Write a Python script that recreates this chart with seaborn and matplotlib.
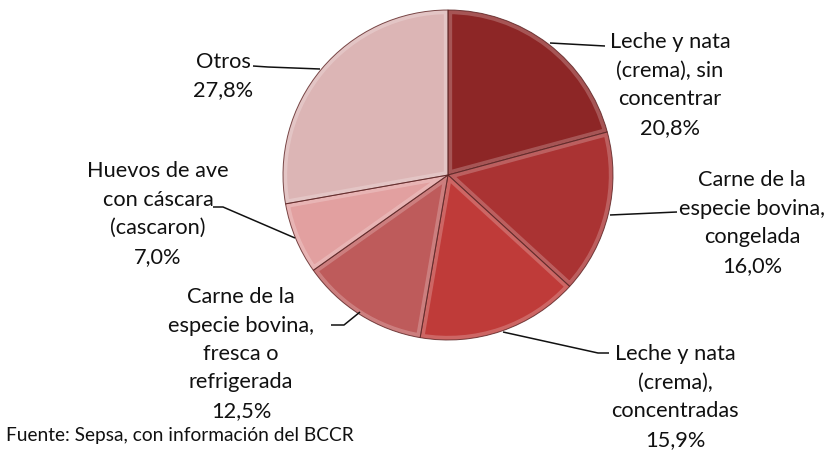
import matplotlib
matplotlib.use("Agg")
import matplotlib.pyplot as plt
from matplotlib.patches import Wedge
import seaborn as sns

# ---- data ----
categorias = [
    "Leche y nata\n(crema), sin\nconcentrar",
    "Carne de la\nespecie bovina,\ncongelada",
    "Leche y nata\n(crema),\nconcentradas",
    "Carne de la\nespecie bovina,\nfresca o\nrefrigerada",
    "Huevos de ave\ncon cáscara\n(cascaron)",
    "Otros",
]
valores = [20.8, 16.0, 15.9, 12.5, 7.0, 27.8]
colores = ["#8D2626", "#AA3333", "#BF3B39", "#BE5B5B", "#E2A0A0", "#DCB5B5"]
fuente = "Fuente: Sepsa, con información del BCCR"

# ---- layout (pixel coords, y from top) ----
W, H = 828, 451
label_pos = [(670, 85), (752, 223), (675, 397), (241, 354), (158, 214), (223, 76)]
leaders = [
    [(550, 43), (605, 46)],
    [(610, 215), (677, 212)],
    [(503, 332), (598, 353), (609, 353)],
    [(360, 312), (344, 325), (331, 325)],
    [(295, 238), (223, 207), (213, 207)],
    [(320, 69), (268, 67), (253, 66)],
]

sns.set_theme(style="white")
plt.rcParams["font.family"] = ["Lato", "DejaVu Sans"]

fig = plt.figure(figsize=(W / 100, H / 100), dpi=100)
ax = fig.add_axes([0, 0, 1, 1])

cx, cy, r = 448, H - 175, 165
wedges, _ = ax.pie(
    valores, colors=colores, startangle=90, counterclock=False,
    center=(cx, cy), radius=r, frame=True,
    wedgeprops=dict(edgecolor="none", linewidth=0),
)
# bevel-like highlight inside each wedge, then a thin dark outline
for w in wedges:
    hl = Wedge(w.center, w.r, w.theta1, w.theta2, facecolor="none",
               edgecolor="white", linewidth=6, alpha=0.22)
    ax.add_patch(hl)
    hl.set_clip_path(w)
    ol = Wedge(w.center, w.r, w.theta1, w.theta2, facecolor="none",
               edgecolor="#5a2020", linewidth=0.7, alpha=0.8)
    ax.add_patch(ol)

ax.set_xlim(0, W)
ax.set_ylim(0, H)
ax.set_aspect("equal")
ax.axis("off")

fs = 15.7
for cat, val, (x, y), path in zip(categorias, valores, label_pos, leaders):
    txt = f"{cat}\n{val:.1f}%".replace(".", ",")
    ax.text(x, H - y, txt, ha="center", va="center", fontsize=fs,
            linespacing=1.53, color="#111111")
    xs = [p[0] for p in path]
    ys = [H - p[1] for p in path]
    ax.plot(xs, ys, color="#111111", linewidth=1.1, solid_capstyle="butt")

ax.text(6, H - 436, fuente, ha="left", va="center", fontsize=13.8, color="#111111")

fig.savefig("out.png", dpi=100, facecolor="white")
